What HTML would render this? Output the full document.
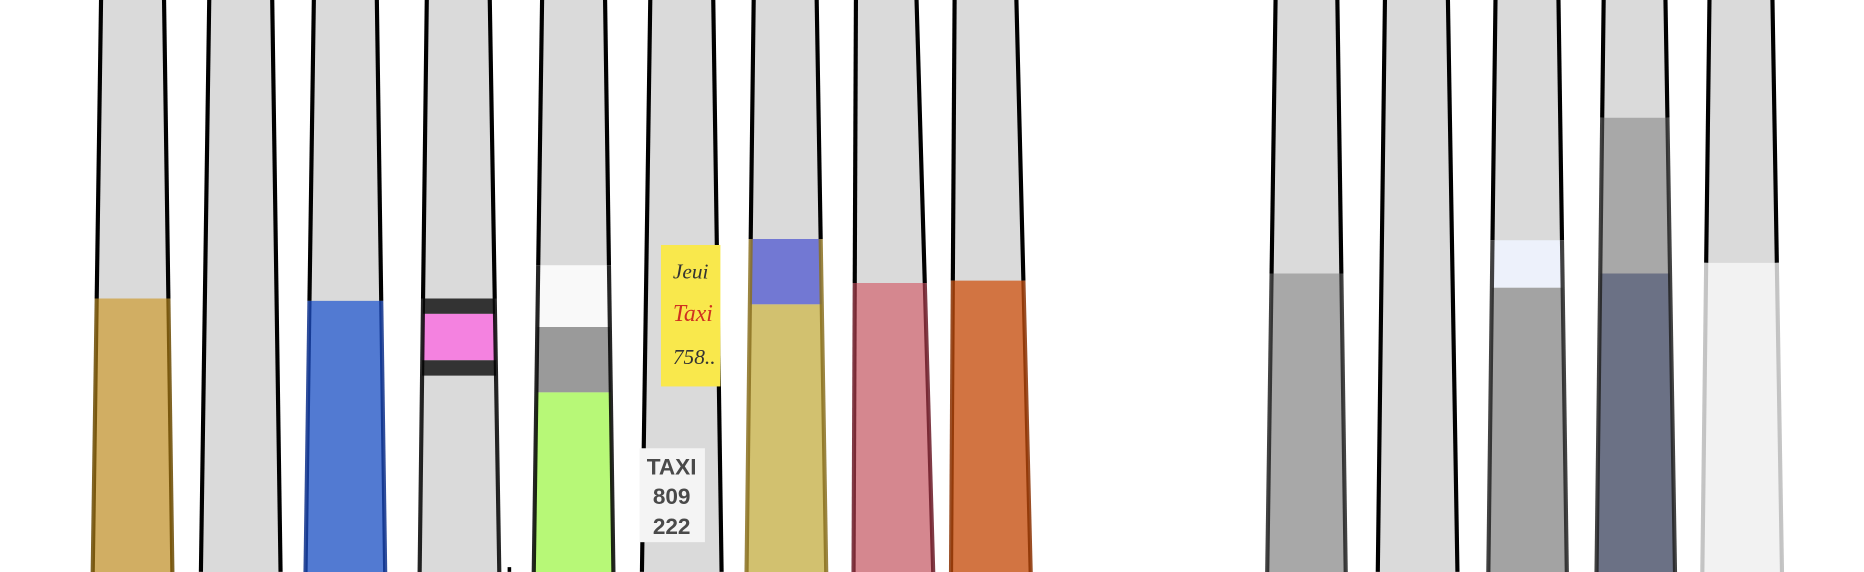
<!DOCTYPE html>
<html><head><meta charset="utf-8"><style>
html,body{margin:0;padding:0;background:#fff;width:1864px;height:572px;overflow:hidden}
svg{display:block}
</style></head><body>
<svg id="c" width="1864" height="572" viewBox="0 0 1568 481" xmlns="http://www.w3.org/2000/svg"></svg>
<script>
const topLeft = [85,176,264,359,456,547,634,720,803,1073,1165,1258,1349,1438];
const topRight = [138,229,317,412,509,600,687,771,855,1125,1218,1311,1401,1491];
const botLeft = [78,169,257,353,449,540,628,718,800,1066,1159,1252,1343,1432];
const botRight = [145,236,324,420,516,607,695,785,867,1132,1226,1318,1409,1499];
const layerTops = [[251],[],[253],[251,264,303,316],[223,275,330],[],[201,256],[238],[236],[230],[],[202,242],[99,230],[221]];
const layerColors = [["#d1ae63"],[],["#527ad2"],["#333","#f482e0","#333","#dadada"],["#f9f9f9","#9a9a9a","#b7f877"],[],["#7278d3","#d2c16f"],["#d5878f"],["#d27442"],["#a8a8a8"],[],["#edf1fb","#a3a3a3"],["#a8a8a8","#6b7185"],["#f2f2f2"]];
const strokeColors = ["#6b4a00","#000","#0b2f8a","#000","#000","#000","#8a7020","#6b1a26","#8a3000","#222","#000","#222","#222","#bbb"];
const H = 481;
const svg = document.getElementById('c');
const NS = 'http://www.w3.org/2000/svg';
function xAt(i, y, side){
  const f = y/H;
  return side ? topRight[i] + (botRight[i]-topRight[i])*f : topLeft[i] + (botLeft[i]-topLeft[i])*f;
}
function quad(i,y0,y1,fill){
  const p = document.createElementNS(NS,'polygon');
  p.setAttribute('points',[xAt(i,y0,0)+','+y0,xAt(i,y0,1)+','+y0,xAt(i,y1,1)+','+y1,xAt(i,y1,0)+','+y1].join(' '));
  p.setAttribute('fill',fill);
  return p;
}
topLeft.forEach((t,i)=>{
  const g = document.createElementNS(NS,'g');
  
  
  g.appendChild(quad(i,-2,H+2,'#dadada'));
  const tops = layerTops[i];
  tops.forEach((y,j)=>{
    const y1 = j+1<tops.length ? tops[j+1] : H+2;
    const q = quad(i,y,y1,layerColors[i][j]);
    
    
    g.appendChild(q);
  });
  const fillTop = tops.length ? tops[0] : H;
  [0,1].forEach(s=>{
    const a = document.createElementNS(NS,'line');
    a.setAttribute('x1',xAt(i,-2,s));a.setAttribute('y1',-2);
    a.setAttribute('x2',xAt(i,fillTop,s));a.setAttribute('y2',fillTop);
    a.setAttribute('stroke','#000');a.setAttribute('stroke-width','3.5');
    g.appendChild(a);
    if(tops.length){
      const b = document.createElementNS(NS,'line');
      b.setAttribute('x1',xAt(i,fillTop,s));b.setAttribute('y1',fillTop);
      b.setAttribute('x2',xAt(i,H+2,s));b.setAttribute('y2',H+2);
      b.setAttribute('stroke',strokeColors[i]);b.setAttribute('stroke-width','3.5');b.setAttribute('opacity','0.85');
      g.appendChild(b);
    }
  });
  svg.appendChild(g);
});
</script>
<svg style="position:absolute;left:0;top:0" width="1864" height="572" viewBox="0 0 1568 481">
  <g>
    <rect x="556" y="206" width="50" height="119" fill="#f9e84c"/>
    <text x="566" y="234" font-family="Liberation Serif, serif" font-style="italic" font-size="18" fill="#333">Jeui</text>
    <text x="566" y="270" font-family="Liberation Serif, serif" font-style="italic" font-size="20" fill="#d03020">Taxi</text>
    <text x="566" y="306" font-family="Liberation Serif, serif" font-style="italic" font-size="18" fill="#333">758..</text>
  </g>
  <g>
    <rect x="538" y="377" width="55" height="79" fill="#f4f4f4"/>
    <text x="565" y="399" text-anchor="middle" font-family="Liberation Sans, sans-serif" font-weight="bold" font-size="19" fill="#4a4a4a">TAXI</text>
    <text x="565" y="424" text-anchor="middle" font-family="Liberation Sans, sans-serif" font-weight="bold" font-size="19" fill="#4a4a4a">809</text>
    <text x="565" y="449" text-anchor="middle" font-family="Liberation Sans, sans-serif" font-weight="bold" font-size="19" fill="#4a4a4a">222</text>
  </g>
  <rect x="427" y="477" width="3" height="4" fill="#000"/>
</svg>
</body></html>
